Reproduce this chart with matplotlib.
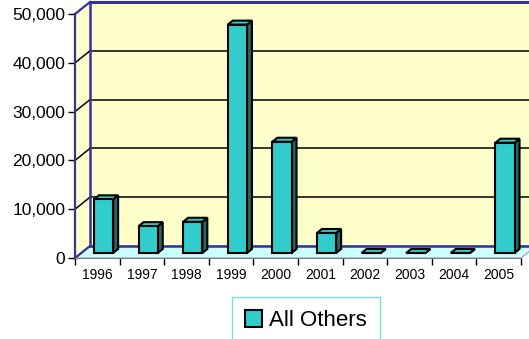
import matplotlib
matplotlib.use('Agg')
import matplotlib.pyplot as plt
from matplotlib.patches import Polygon
import numpy as np

# data
years = ['1996', '1997', '1998', '1999', '2000', '2001', '2002', '2003', '2004', '2005']
values = [11000, 5500, 6400, 46800, 22800, 4100, 0, 0, 0, 22600]
yticks = [0, 10000, 20000, 30000, 40000, 50000]
series_name = 'All Others'

plt.rcParams['font.family'] = ['Liberation Sans', 'DejaVu Sans']

W, H = 529, 339
fig = plt.figure(figsize=(W / 100, H / 100), dpi=100)
# front plane of the 3d box
ax_l, ax_b, ax_w, ax_h = 75, 81, 446, 244
ax = fig.add_axes([ax_l / W, ax_b / H, ax_w / W, ax_h / H])
ax.set_xlim(-0.5, len(years) - 0.5)
ax.set_ylim(0, 50000)
ax.patch.set_visible(False)

# pixel -> data conversion for the depth effect
sx = (len(years)) / ax_w
sy = 50000 / ax_h
Dx, Dy = 15 * sx, 12 * sy          # full depth of the box
x0, x1 = -0.5, len(years) - 0.5
ytop = 50000

blue = '#333399'
wall = '#FFFFCC'
floor = '#CCFFFF'

# walls and floor
ax.add_patch(Polygon([(x0 + Dx, Dy), (x1 + Dx, Dy), (x1 + Dx, ytop + Dy), (x0 + Dx, ytop + Dy)],
                     closed=True, fc=wall, ec='none', clip_on=False, zorder=0))
ax.add_patch(Polygon([(x0, 0), (x0 + Dx, Dy), (x0 + Dx, ytop + Dy), (x0, ytop)],
                     closed=True, fc=wall, ec='none', clip_on=False, zorder=0))
ax.add_patch(Polygon([(x0, 0), (x1, 0), (x1 + Dx, Dy), (x0 + Dx, Dy)],
                     closed=True, fc=floor, ec='#999999', lw=0.8, clip_on=False, zorder=0.5))

# gridlines on back wall and side wall
for y in yticks[1:-1]:
    ax.plot([x0 + Dx, x1 + Dx], [y + Dy, y + Dy], color='black', lw=1.1, clip_on=False, zorder=1)
    ax.plot([x0, x0 + Dx], [y, y + Dy], color='black', lw=1.1, clip_on=False, zorder=1)

# blue box edges
ax.plot([x0 + Dx, x1 + Dx], [ytop + Dy, ytop + Dy], color=blue, lw=2.2, clip_on=False, zorder=1)
ax.plot([x0, x0 + Dx], [ytop, ytop + Dy], color=blue, lw=1.6, clip_on=False, zorder=1)
ax.plot([x0 + Dx, x0 + Dx], [Dy, ytop + Dy], color=blue, lw=1.8, clip_on=False, zorder=1)
ax.plot([x0 + Dx, x1 + Dx], [Dy, Dy], color=blue, lw=1.8, clip_on=False, zorder=1)
ax.plot([x0, x0 + Dx], [0, Dy], color=blue, lw=1.6, clip_on=False, zorder=1)

# bars with depth
xpos = np.arange(len(years))
bw = 0.43
fx, fy = 6.25 * sx, 5 * sy     # front face offset
ddx, ddy = 5 * sx, 4 * sy      # bar depth
face = '#33CCCC'
side = '#226666'

bars = ax.bar(xpos + fx, values, width=bw, bottom=fy, color=face, edgecolor='black',
              lw=1.5, clip_on=False, zorder=3, label=series_name)
for xc, v in zip(xpos, values):
    l = xc + fx - bw / 2
    r = xc + fx + bw / 2
    ax.add_patch(Polygon([(r, fy), (r + ddx, fy + ddy), (r + ddx, v + fy + ddy), (r, v + fy)],
                         closed=True, fc=side, ec='black', lw=1.5, clip_on=False, zorder=2.5))
    ax.add_patch(Polygon([(l, v + fy), (r, v + fy), (r + ddx, v + fy + ddy), (l + ddx, v + fy + ddy)],
                         closed=True, fc=face, ec='black', lw=1.5, clip_on=False, zorder=2.5))

# axes, ticks
for s in ['top', 'right']:
    ax.spines[s].set_visible(False)
ax.spines['left'].set_color(blue)
ax.spines['left'].set_linewidth(1.6)
ax.spines['left'].set_zorder(2)
ax.spines['bottom'].set_color('#808080')
ax.spines['bottom'].set_linewidth(0.8)

ax.set_yticks(yticks)
ax.set_yticklabels([f'{t:,}' for t in yticks], fontsize=12.5)
ax.tick_params(axis='y', direction='out', length=5, width=1, color='black', pad=2)

ax.set_xticks(xpos)
ax.set_xticklabels(years, fontsize=10)
ax.set_xticks(np.arange(-0.5, len(years), 1), minor=True)
ax.tick_params(axis='x', which='major', length=0, pad=7)
ax.tick_params(axis='x', which='minor', length=5, width=1, color='black')

leg = fig.legend(handles=[bars], loc='upper left', bbox_to_anchor=(232 / W, 1 - 297 / H),
                 borderaxespad=0, fontsize=16, frameon=True, fancybox=False,
                 handlelength=0.75, handleheight=0.75, handletextpad=0.3,
                 borderpad=0.6)
leg.get_frame().set_edgecolor('#55D5D5')
leg.get_frame().set_linewidth(1.0)

fig.savefig('out.png', dpi=100)
